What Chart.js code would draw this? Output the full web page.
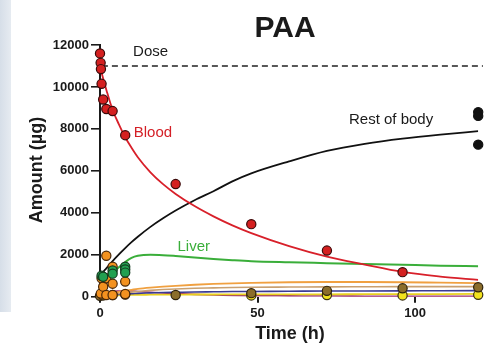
<!DOCTYPE html>
<html>
<head>
<meta charset="utf-8">
<script src="https://cdn.jsdelivr.net/npm/chart.js@4/dist/chart.umd.min.js"></script>
<style>
  html, body { margin: 0; padding: 0; background: #fff; }
  #wrap { position: relative; width: 484px; height: 347px; overflow: hidden; }
  #strip { position: absolute; left: 0; top: 0; width: 11px; height: 312px;
           background: linear-gradient(90deg, #d6dee8, #e6ebf1); }
  canvas { position: absolute; left: 0; top: 0; }
</style>
</head>
<body>
<div id="wrap"><div id="strip"></div><canvas id="paa" width="484" height="347"></canvas></div>
<script>
// tijdstippen (h) van de gefitte curves
var fitTimes   = [0, 1, 2, 4, 6, 8, 10, 12, 16, 20, 24, 30, 36, 42, 48, 60, 72, 84, 96, 108, 120];
var bloodFit   = [11000, 10400, 9870, 8900, 8220, 7600, 7100, 6650, 5930, 5365, 4900, 4320, 3830, 3400, 3030, 2410, 1910, 1530, 1180, 960, 800];
var restFit    = [1000, 1180, 1350, 1700, 2020, 2320, 2600, 2860, 3330, 3740, 4110, 4600, 5030, 5500, 5880, 6450, 6950, 7290, 7540, 7730, 7890];
var liverFit   = [900, 950, 1000, 1150, 1400, 1650, 1850, 1950, 2000, 1980, 1940, 1870, 1800, 1740, 1690, 1640, 1600, 1560, 1520, 1480, 1450];
var orangeFit  = [0, 50, 90, 170, 230, 290, 330, 370, 430, 480, 520, 570, 610, 640, 660, 690, 700, 700, 690, 670, 650];
var tanFit     = [0, 30, 60, 110, 150, 190, 220, 250, 300, 340, 370, 400, 420, 440, 450, 460, 470, 475, 480, 480, 480];
var navyFit    = [50, 60, 70, 90, 110, 130, 140, 160, 180, 200, 210, 225, 235, 245, 250, 260, 270, 275, 280, 285, 290];
var yellowFit  = [30, 40, 50, 60, 70, 80, 85, 90, 95, 100, 100, 105, 105, 110, 110, 115, 115, 120, 120, 125, 130];
var purpleFit  = [0, 80, 150, 250, 270, 280, 270, 250, 210, 180, 150, 110, 80, 60, 50, 40, 30, 25, 20, 20, 20];

var doseTimes  = [0.6, 121.5];
var doseAmount = [11000, 11000];

// gemeten punten
var bloodTimes    = [0, 0.2, 0.3, 0.5, 1, 2, 4, 8, 24, 48, 72, 96];
var bloodAmounts  = [11600, 11150, 10850, 10150, 9400, 8950, 8850, 7700, 5370, 3460, 2200, 1170];
var restTimes     = [120, 120, 120];
var restAmounts   = [8800, 8620, 7250];
var liverTimes    = [0.5, 1, 4, 4, 8, 8, 8];
var liverAmounts  = [1000, 950, 1250, 1100, 1430, 1300, 1150];
var orangeTimes   = [0.25, 0.5, 1, 2, 2, 2, 4, 4, 4, 8, 8];
var orangeAmounts = [150, 880, 480, 1950, 880, 80, 1430, 620, 80, 720, 130];
var brownTimes    = [0, 1, 4, 8, 24, 48, 72, 96, 120];
var brownAmounts  = [40, 60, 80, 100, 80, 170, 280, 400, 450];
var yellowTimes   = [48, 72, 96, 120];
var yellowAmounts = [60, 80, 60, 90];

var xTicks = [0, 50, 100];
var FONT = '"Liberation Sans", Arial, sans-serif';

function pairs(xs, ys){
  return xs.map(function(x, i){ return {x: x, y: ys[i]}; });
}

function curve(times, values, color, width, dash){
  return {
    data: pairs(times, values),
    showLine: true,
    borderColor: color,
    borderWidth: width || 1.8,
    borderDash: dash || [],
    pointRadius: 0,
    cubicInterpolationMode: 'monotone',
    clip: dash ? false : undefined,
    order: 2
  };
}

function dots(xs, ys, fill, edge){
  return {
    data: pairs(xs, ys),
    showLine: false,
    backgroundColor: fill,
    borderColor: edge,
    pointRadius: 4.6,
    pointBorderWidth: 1.2,
    clip: false,
    order: 0
  };
}

/**
* Tekst op de grafiek: titel, as-titels en curve labels.
**/
var textPlugin = {
  id: 'paaText',
  afterDraw: function(chart){
    var ctx = chart.ctx, sx = chart.scales.x, sy = chart.scales.y;
    ctx.save();
    ctx.fillStyle = '#1a1a1a';
    ctx.textAlign = 'center';
    ctx.textBaseline = 'alphabetic';
    ctx.font = 'bold 30px ' + FONT;
    ctx.fillText('PAA', 285, 37);
    ctx.font = 'bold 18px ' + FONT;
    ctx.fillText('Time (h)', 290, 339);
    ctx.save();
    ctx.translate(37.5, 170);
    ctx.rotate(-Math.PI / 2);
    ctx.textBaseline = 'middle';
    ctx.fillText('Amount (\u00b5g)', 0, 0);
    ctx.restore();

    ctx.textBaseline = 'middle';
    ctx.font = '15px ' + FONT;
    var labels = [
      ['Dose', 10.5, 11650, '#1a1a1a'],
      ['Blood', 10.7, 7830, '#d41f26'],
      ['Rest of body', 79, 8450, '#1a1a1a'],
      ['Liver', 24.6, 2380, '#3aae3a']
    ];
    ctx.textAlign = 'left';
    labels.forEach(function(l){
      ctx.fillStyle = l[3];
      ctx.fillText(l[0], sx.getPixelForValue(l[1]), sy.getPixelForValue(l[2]));
    });
    ctx.restore();
  }
};

new Chart(document.getElementById('paa'), {
  type: 'scatter',
  data: {
    datasets: [
      // punten: eerste dataset komt bovenop
      dots(bloodTimes, bloodAmounts, '#d42020', '#3a0a0a'),
      dots(restTimes, restAmounts, '#111', '#111'),
      dots(liverTimes, liverAmounts, '#22a050', '#123a1e'),
      dots(orangeTimes, orangeAmounts, '#f39220', '#4a2808'),
      dots(brownTimes, brownAmounts, '#8b6d2b', '#2e220c'),
      dots(yellowTimes, yellowAmounts, '#f2e21e', '#3a3010'),
      curve(fitTimes, bloodFit, '#d8202a', 1.8),
      curve(fitTimes, restFit, '#111', 1.8),
      curve(fitTimes, liverFit, '#3aae3a', 2),
      curve(fitTimes, orangeFit, '#f0a040', 1.8),
      curve(fitTimes, tanFit, '#c9a070', 1.6),
      curve(fitTimes, navyFit, '#3a3a92', 1.6),
      curve(fitTimes, yellowFit, '#e8d020', 1.8),
      curve(fitTimes, purpleFit, '#9c2a6c', 1.6),
      curve(doseTimes, doseAmount, '#222', 1.6, [6, 4])
    ]
  },
  options: {
    responsive: false,
    animation: false,
    events: [],
    layout: { padding: { top: 45, right: 4, left: 0, bottom: 0 } },
    plugins: { legend: { display: false }, tooltip: { enabled: false }, title: { display: false } },
    scales: {
      x: {
        type: 'linear', min: 0, max: 120,
        afterFit: function(s){ s.height = 50.3; },
        afterBuildTicks: function(s){ s.ticks = xTicks.map(function(v){ return {value: v}; }); },
        border: { display: false },
        grid: { drawOnChartArea: false, drawTicks: true, tickLength: 6, color: '#1a1a1a', lineWidth: 2 },
        ticks: { padding: 3, color: '#1a1a1a', font: { family: FONT, size: 13, weight: 'bold' },
                 callback: function(v){ return String(v); } }
      },
      y: {
        type: 'linear', min: 0, max: 12000,
        afterFit: function(s){ s.width = 100; },
        border: { display: true, color: '#1a1a1a', width: 2 },
        grid: { drawOnChartArea: false, drawTicks: true, tickLength: 9, color: '#1a1a1a', lineWidth: 1.6 },
        ticks: { stepSize: 2000, padding: 2, color: '#1a1a1a', font: { family: FONT, size: 13, weight: 'bold' },
                 callback: function(v){ return String(v); } }
      }
    }
  },
  plugins: [textPlugin]
});
</script>
</body>
</html>
